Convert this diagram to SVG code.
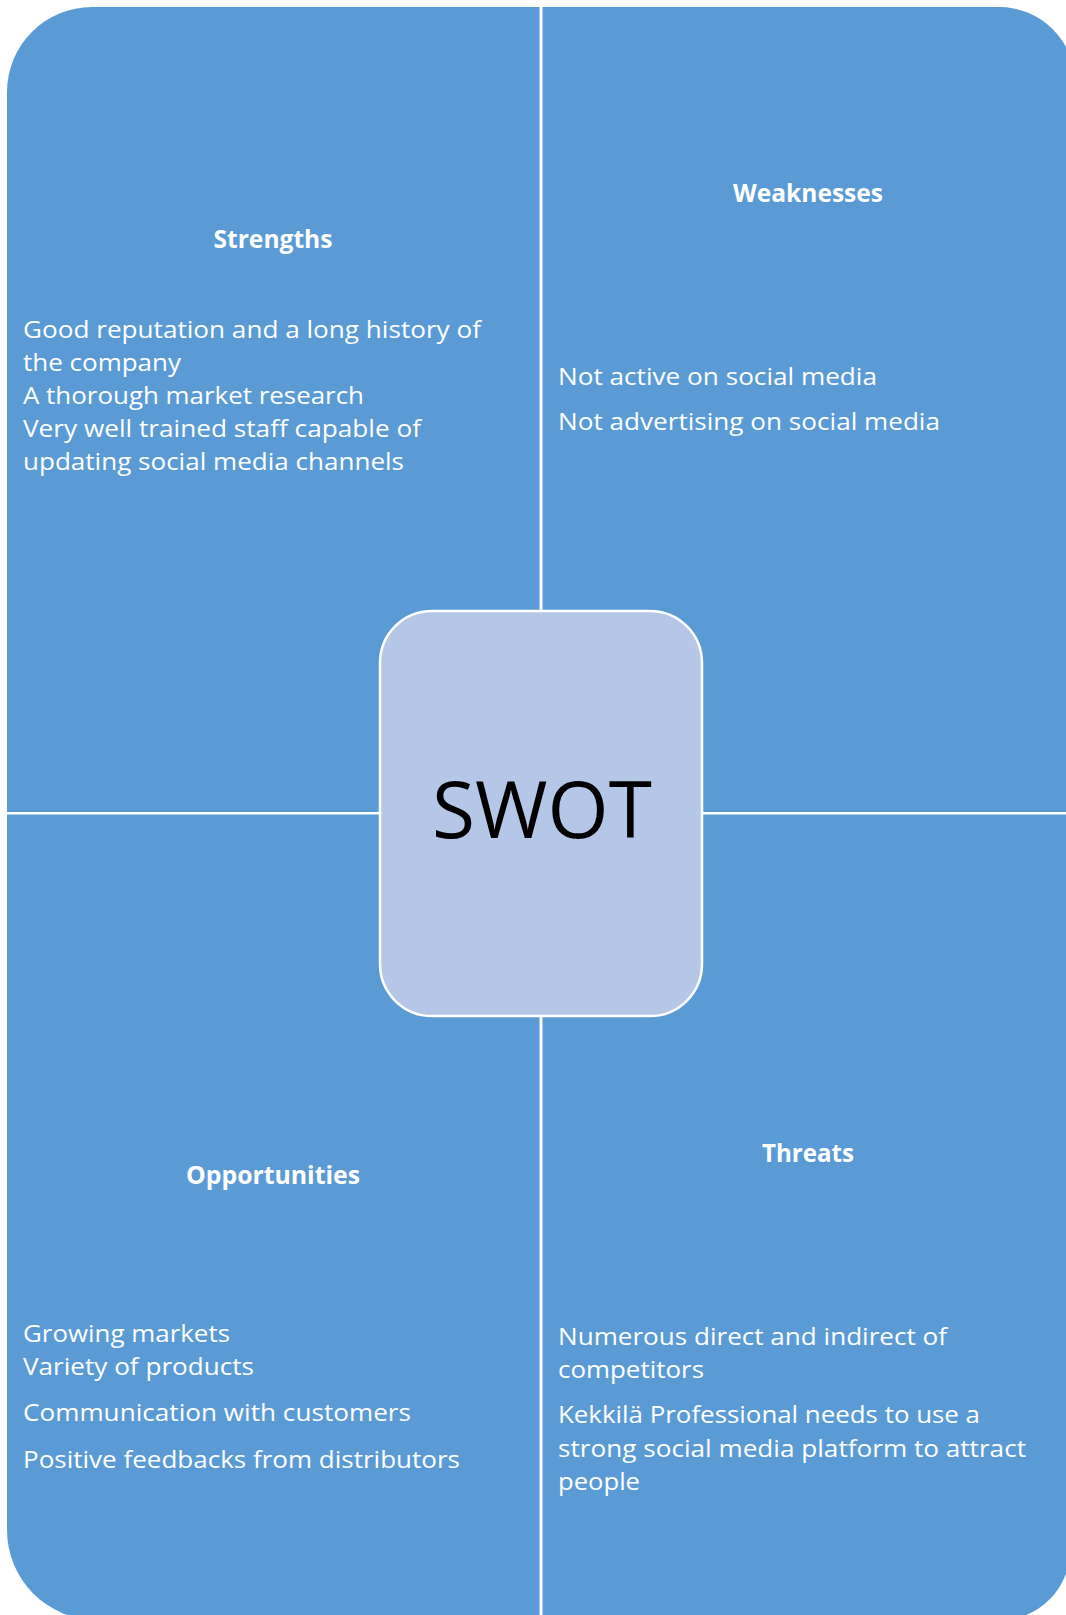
<svg xmlns="http://www.w3.org/2000/svg" width="1066" height="1615" viewBox="0 0 1066 1615">
<style>
.quad{fill:#5B9BD5;}
.title{font-family:"Open Sans","Liberation Sans",sans-serif;font-weight:bold;font-size:25px;fill:#FFFFFF;text-anchor:middle;}
.body{font-family:"Open Sans","Liberation Sans",sans-serif;font-size:23px;fill:#FFFFFF;}
.center{fill:#B4C7E7;stroke:#FFFFFF;stroke-width:2.5;}
.swot{font-family:"Open Sans","Liberation Sans",sans-serif;font-size:78px;fill:#000000;text-anchor:middle;}
</style>
<rect x="0" y="0" width="1066" height="1615" fill="#FFFFFF"/>
<g id="strengths">
<path class="quad" d="M7,92 A85,85 0 0 1 92,7 L539.5,7 L539.5,812 L7,812 Z"/>
<text class="title" x="273" y="248" textLength="119" lengthAdjust="spacingAndGlyphs">Strengths</text>
<text class="body" x="23" y="338" textLength="458" lengthAdjust="spacingAndGlyphs">Good reputation and a long history of</text>
<text class="body" x="23" y="371" textLength="158" lengthAdjust="spacingAndGlyphs">the company</text>
<text class="body" x="23" y="404" textLength="341" lengthAdjust="spacingAndGlyphs">A thorough market research</text>
<text class="body" x="23" y="437" textLength="398" lengthAdjust="spacingAndGlyphs">Very well trained staff capable of</text>
<text class="body" x="23" y="470" textLength="381" lengthAdjust="spacingAndGlyphs">updating social media channels</text>
</g>
<g id="weaknesses">
<path class="quad" d="M542.5,7 L999,7 A76,76 0 0 1 1075,83 L1075,812 L542.5,812 Z"/>
<text class="title" x="808" y="202" textLength="150" lengthAdjust="spacingAndGlyphs">Weaknesses</text>
<text class="body" x="558" y="385" textLength="319" lengthAdjust="spacingAndGlyphs">Not active on social media</text>
<text class="body" x="558" y="430" textLength="382" lengthAdjust="spacingAndGlyphs">Not advertising on social media</text>
</g>
<g id="opportunities">
<path class="quad" d="M7,814.5 L539.5,814.5 L539.5,1620 L97,1620 A90,90 0 0 1 7,1530 Z"/>
<text class="title" x="273" y="1184" textLength="174" lengthAdjust="spacingAndGlyphs">Opportunities</text>
<text class="body" x="23" y="1342" textLength="207" lengthAdjust="spacingAndGlyphs">Growing markets</text>
<text class="body" x="23" y="1375" textLength="231" lengthAdjust="spacingAndGlyphs">Variety of products</text>
<text class="body" x="23" y="1421" textLength="388" lengthAdjust="spacingAndGlyphs">Communication with customers</text>
<text class="body" x="23" y="1468" textLength="437" lengthAdjust="spacingAndGlyphs">Positive feedbacks from distributors</text>
</g>
<g id="threats">
<path class="quad" d="M542.5,814.5 L1070,814.5 L1070,1550 A70,70 0 0 1 1000,1620 L542.5,1620 Z"/>
<text class="title" x="808" y="1162" textLength="92" lengthAdjust="spacingAndGlyphs">Threats</text>
<text class="body" x="558" y="1345" textLength="389" lengthAdjust="spacingAndGlyphs">Numerous direct and indirect of</text>
<text class="body" x="558" y="1378" textLength="146" lengthAdjust="spacingAndGlyphs">competitors</text>
<text class="body" x="558" y="1423" textLength="422" lengthAdjust="spacingAndGlyphs">Kekkilä Professional needs to use a</text>
<text class="body" x="558" y="1457" textLength="468" lengthAdjust="spacingAndGlyphs">strong social media platform to attract</text>
<text class="body" x="558" y="1490" textLength="82" lengthAdjust="spacingAndGlyphs">people</text>
</g>
<g id="swot">
<rect class="center" x="380" y="611" width="322" height="405" rx="52" ry="52"/>
<text class="swot" x="542" y="838" textLength="220" lengthAdjust="spacingAndGlyphs">SWOT</text>
</g>
</svg>
